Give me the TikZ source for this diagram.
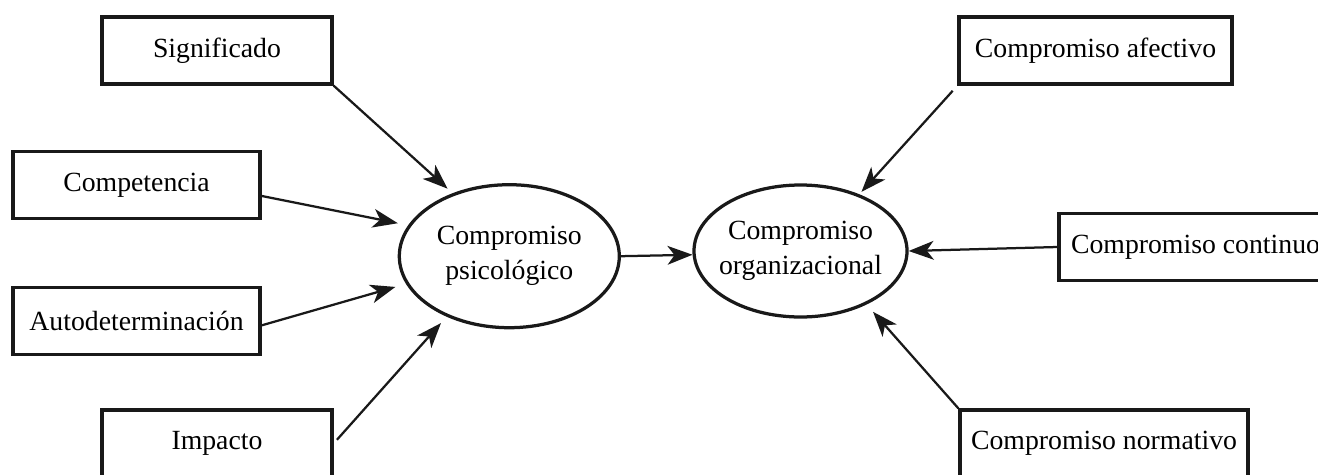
\documentclass[tikz,border=0pt]{standalone}
\usepackage{fontspec}
\setmainfont{Liberation Serif}
\usetikzlibrary{arrows.meta,shapes.geometric}

\colorlet{colorLine}{black!90}
\tikzset{
   every path/.style={>={Stealth[length=10pt,width=7.5pt,inset=2.8pt]}},
   dim/.style={draw=colorLine,line width=1.3pt,rectangle,inner sep=0pt,minimum height=26.8pt,font=\fontsize{11.1}{14}\selectfont},
   cons/.style={draw=colorLine,line width=1.3pt,ellipse,inner xsep=-5pt,inner ysep=0pt,align=center,font=\fontsize{11.1}{14}\selectfont},
   infl/.style={->,color=colorLine,line width=0.9pt},
 }
\newcommand{\dinf}[3]{\draw[infl,#3] (#1) -- (#2)}

\begin{document}
\begin{tikzpicture}[x=0.4pt,y=-0.4pt]
      \useasboundingbox (0,0) rectangle (1318,474);

      % empoderamiento
      \node[dim,minimum width=92pt] (Sig) at (217,50.5) {Significado};
      \node[dim,minimum width=98.8pt] (Comp) at (136.5,185) {Competencia};
      \node[dim,minimum width=98.8pt] (Auto) at (136.5,321) {Autodeterminación};
      \node[dim,minimum width=92pt] (Imp) at (217,443.5) {Impacto};

      \node[cons,minimum width=88pt,minimum height=57.2pt] (Psi) at (509.3,256.2) {Compromiso\\psicológico};
      \node[cons,minimum width=85.2pt,minimum height=52.8pt] (Org) at (800.5,251) {Compromiso\\organizacional};

      % componentes
      \node[dim,minimum width=109.2pt] (Afe) at (1095.5,50.5) {Compromiso afectivo};
      \node[dim,minimum width=109.2pt] (Cont) at (1195.5,247) {Compromiso continuo};
      \node[dim,minimum width=115.2pt] (Norm) at (1104,443.5) {Compromiso normativo};

      \dinf{Sig.south east}{Psi.132.8}{shorten >=2.7pt};
      \dinf{Comp.-5.5}{Psi.163.7}{shorten >=4.2pt};
      \dinf{Auto.-2.8}{Psi.195.9}{shorten >=4.4pt};
      \dinf{Imp.east}{Psi.224.8}{shorten <=2pt,shorten >=3.4pt};
      \dinf{Psi.east}{Org.182}{};
      \dinf{Afe.south west}{Org.44.3}{shorten <=2.8pt,shorten >=1.3pt};
      \dinf{Cont.west}{Org.east}{};
      \dinf{Norm.north west}{Org.-39.5}{shorten >=3.9pt};
    \end{tikzpicture}
\end{document}
